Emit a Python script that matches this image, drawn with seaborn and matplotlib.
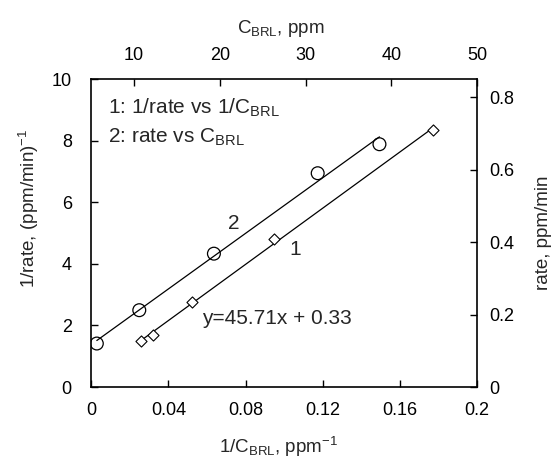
import matplotlib
matplotlib.use("Agg")
import matplotlib.pyplot as plt
import seaborn as sns

# series 1: 1/rate vs 1/C_BRL  (bottom / left axes)
inv_c = [0.0259, 0.0320, 0.0520, 0.0947, 0.1770]
inv_rate = [1.50, 1.69, 2.75, 4.80, 8.34]

# series 2: rate vs C_BRL  (top / right axes)
c_brl = [5.65, 10.6, 19.3, 31.4, 38.6]
rate = [0.120, 0.212, 0.368, 0.590, 0.670]

bottom_ticks = [0, 0.04, 0.08, 0.12, 0.16, 0.2]
bottom_labels = ["0", "0.04", "0.08", "0.12", "0.16", "0.2"]
left_ticks = [0, 2, 4, 6, 8, 10]
top_ticks = [10, 20, 30, 40, 50]
right_ticks = [0, 0.2, 0.4, 0.6, 0.8]
right_labels = ["0", "0.2", "0.4", "0.6", "0.8"]
fit_text = "y=45.71x + 0.33"

sns.set_style("ticks")
plt.rcParams['font.family'] = ['Liberation Sans', 'DejaVu Sans']
plt.rcParams['mathtext.default'] = 'regular'

fig = plt.figure(figsize=(5.53, 4.58), dpi=100)
rect = [0.165, 0.155, 0.698, 0.6725]
ax = fig.add_axes(rect)
ax2 = fig.add_axes(rect, frameon=False, label="top_right")

# series 1
sns.regplot(x=inv_c, y=inv_rate, ax=ax, ci=None, scatter=False, truncate=True,
            line_kws=dict(color='k', lw=0.9))
sns.scatterplot(x=inv_c, y=inv_rate, ax=ax, marker='D', s=32, facecolor='white',
                edgecolor='k', linewidth=0.8, zorder=3)

# series 2
sns.regplot(x=c_brl, y=rate, ax=ax2, ci=None, scatter=False, truncate=True,
            line_kws=dict(color='k', lw=0.9))
sns.scatterplot(x=c_brl, y=rate, ax=ax2, marker='o', s=85, facecolor='none',
                edgecolor='k', linewidth=0.9, zorder=3)

ax.set_xlim(0, 0.2)
ax.set_ylim(0, 10)
ax.set_xticks(bottom_ticks)
ax.set_xticklabels(bottom_labels)
ax.set_yticks(left_ticks)
ax2.set_xlim(5, 50)
ax2.set_ylim(0, 0.85)
ax2.set_xticks(top_ticks)
ax2.set_yticks(right_ticks)
ax2.set_yticklabels(right_labels)

ax2.xaxis.tick_top()
ax2.yaxis.tick_right()
ax2.xaxis.set_label_position('top')
ax2.yaxis.set_label_position('right')
ax2.patch.set_visible(False)

for spine in ax.spines.values():
    spine.set_linewidth(1.2)
    spine.set_color('k')

ax.tick_params(axis='x', direction='in', length=5, width=1, labelsize=13, pad=11,
               colors='k', top=False)
ax.tick_params(axis='y', direction='in', length=5, width=1, labelsize=13, pad=14,
               colors='k', right=False)
ax2.tick_params(axis='x', direction='in', length=5, width=1, labelsize=13, pad=11,
                colors='k')
ax2.tick_params(axis='y', direction='in', length=5, width=1, labelsize=13, pad=9,
                colors='k')

ax.set_xlabel(r'1/C$_{BRL}$, ppm$^{-1}$', fontsize=13.5)
ax.set_ylabel(r'1/rate, (ppm/min)$^{-1}$', fontsize=13.5)
ax2.set_xlabel(r'C$_{BRL}$, ppm', fontsize=13.5)
ax2.set_ylabel('rate, ppm/min', fontsize=13.5)
ax.xaxis.set_label_coords(0.485, -0.155)
ax.yaxis.set_label_coords(-0.13, 0.58)
ax2.xaxis.set_label_coords(0.49, 1.15)
ax2.yaxis.set_label_coords(1.15, 0.50)

ax.text(0.0088, 9.06, r'1: 1/rate vs 1/C$_{BRL}$', fontsize=15, va='center', ha='left')
ax.text(0.0088, 8.12, r'2: rate vs C$_{BRL}$', fontsize=15, va='center', ha='left')
ax.text(0.0736, 5.32, '2', fontsize=15, va='center', ha='center')
ax.text(0.1057, 4.45, '1', fontsize=15, va='center', ha='center')
ax.text(0.0575, 2.24, fit_text, fontsize=15, va='center', ha='left')

fig.savefig('out.png', dpi=100)
